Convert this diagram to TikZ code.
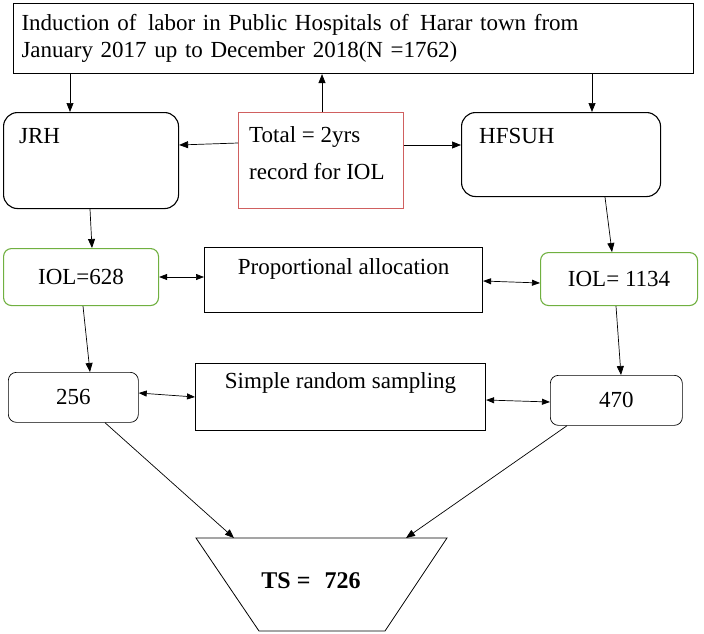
\documentclass[tikz,border=0pt]{standalone}
\usepackage{fontspec}
\setmainfont{Liberation Serif}
\usetikzlibrary{arrows.meta,shapes.geometric,positioning}
\definecolor{boxred}{RGB}{208,96,96}
\definecolor{boxgreen}{RGB}{112,176,64}

\begin{document}
\begin{tikzpicture}[x=1pt,y=-1pt,
        font=\fontsize{23}{27}\selectfont,
        box/.style={draw, line width=1.1pt, anchor=north west, inner sep=0pt},
        rbox/.style={box, rounded corners=14pt},
        gbox/.style={box, draw=boxgreen, rounded corners=8pt},
        sbox/.style={box, line width=0.7pt, rounded corners=8pt},
        arr/.style={-{Triangle[length=9pt,width=7pt]}, line width=0.7pt},
        darr/.style={{Triangle[length=8pt,width=6pt]}-{Triangle[length=8pt,width=6pt]}, line width=0.7pt}]

    \useasboundingbox (0,0) rectangle (704,634);

    % boxes
    \node[box, minimum width=680, minimum height=70, text width=664, inner xsep=8pt, align=left] (top) at (13,3)
        {Induction of\, labor in Public Hospitals of\, Harar town from\\January 2017 up to December 2018(N =1762)};
    \node[rbox, minimum width=175, minimum height=96,
          label={[anchor=north west, inner xsep=16pt, inner ysep=16pt]north west:JRH}] (jrh) at (3,112) {};
    \node[box, draw=boxred, line width=0.8pt, minimum width=165, minimum height=96,
          label={[anchor=north west, inner xsep=11pt, inner ysep=14pt, align=left]north west:Total = 2yrs\\[10pt]record for IOL}] (total) at (238,112) {};
    \node[rbox, minimum width=199, minimum height=84,
          label={[anchor=north west, inner xsep=18pt, inner ysep=16pt]north west:HFSUH}] (hfsuh) at (461,112) {};

    \node[gbox, minimum width=155, minimum height=57] (iola) at (3,248) {IOL=628};
    \node[box, minimum width=278, minimum height=65,
          label={[anchor=north, inner ysep=11pt]north:Proportional allocation}] (prop) at (204,247) {};
    \node[gbox, minimum width=157, minimum height=53] (iolb) at (540,252) {IOL= 1134};

    \node[sbox, minimum width=130, minimum height=50] (sa) at (8,372) {256};
    \node[box, minimum width=290, minimum height=67,
          label={[anchor=north, inner ysep=9pt]north:Simple random sampling}] (srs) at (195,363) {};
    \node[sbox, minimum width=132, minimum height=50] (sb) at (550,375) {470};

    % trapezium
    \coordinate (tsnw) at (196,538);
    \coordinate (tsne) at (447,538);
    \draw[line width=0.8pt] (tsnw) -- (tsne) -- (385,631) -- (259,631) -- cycle;
    \node[font=\fontsize{24}{27}\selectfont\bfseries] (ts) at (311,581) {TS =\,\, 726};
    \coordinate (tsa) at (234,538);
    \coordinate (tsb) at (406,538);

    % connectors
    \draw[arr] ([xshift=57pt]top.south west) -- ([xshift=67pt]jrh.north west);
    \draw[arr] ([xshift=84pt]total.north west) -- ([xshift=309pt]top.south west);
    \draw[arr] ([xshift=579pt]top.south west) -- ([xshift=131pt]hfsuh.north west);
    \draw[arr] ([yshift=-31pt]total.north west) -- ([yshift=-33pt]jrh.north east);
    \draw[arr] ([yshift=-33pt]total.north east) -- ([yshift=-33pt]hfsuh.north west);

    \draw[arr] ([xshift=87pt]jrh.south west) -- ([xshift=89pt]iola.north west);
    \draw[arr] ([xshift=144pt]hfsuh.south west) -- ([xshift=72pt]iolb.north west);
    \draw[darr] ([yshift=-29pt]iola.north east) -- ([yshift=-30pt]prop.north west);
    \draw[darr] ([yshift=-34pt]prop.north east) -- ([yshift=-31pt]iolb.north west);

    \draw[arr] ([xshift=80pt]iola.south west) -- ([xshift=82pt]sa.north west);
    \draw[arr] ([xshift=76pt]iolb.south west) -- ([xshift=71pt]sb.north west);
    \draw[darr] ([yshift=-21pt]sa.north east) -- ([yshift=-34pt]srs.north west);
    \draw[darr] ([yshift=-37pt]srs.north east) -- ([yshift=-27pt]sb.north west);

    \draw[arr] ([xshift=97pt]sa.south west) -- (tsa);
    \draw[arr] ([xshift=17pt]sb.south west) -- (tsb);
\end{tikzpicture}
\end{document}
